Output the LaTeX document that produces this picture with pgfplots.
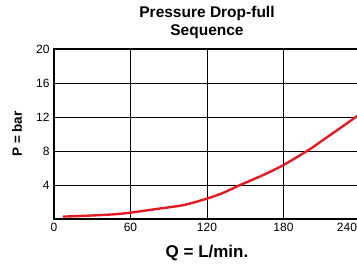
\documentclass[border=0pt]{standalone}
\usepackage{pgfplots}
\pgfplotsset{compat=1.18}
\usepackage{fontspec}
\setmainfont{Liberation Sans}
\definecolor{curvered}{RGB}{228,27,36}
\begin{document}
\begin{tikzpicture}
\begin{axis}[
  scale only axis, width=306pt, height=170pt,
  xmin=0, xmax=240, ymin=0, ymax=20,
  xtick={0,60,120,180,240}, ytick={4,8,12,16,20},
  xticklabels={0,60,120,180,\llap{240\hspace{3pt}}},
  grid=major, major grid style={black, line width=0.9pt},
  axis line style={black, line width=1.8pt},
  tick style={draw=none},
  /pgf/number format/assume math mode=true,
  ticklabel style={font=\fontsize{12}{13}\selectfont},
  xticklabel style={yshift=-1pt},
  yticklabel style={xshift=-1pt},
  xlabel={Q = L/min.}, ylabel={P = bar},
  xlabel style={font=\bfseries\fontsize{17}{18}\selectfont, at={(axis description cs:0.5,0)}, yshift=-34pt, anchor=center},
  ylabel style={font=\bfseries\fontsize{13.5}{14}\selectfont, at={(axis description cs:0,0.5)}, rotate=0, anchor=center, yshift=37pt},
  title={Pressure Drop-full\\Sequence},
  title style={align=center, font=\bfseries\fontsize{15.5}{18}\selectfont, at={(axis description cs:0.5,1)}, yshift=21pt, anchor=center},
]
\addplot[curvered, line width=2.4pt, smooth, tension=0.5] coordinates {
(7,0.28) (25,0.38) (47,0.55) (60,0.75) (72,1.0) (84,1.25) (102,1.65) (120,2.4) (133,3.1) (146,4.0) (163,5.1) (180,6.35) (200,8.15) (212,9.4) (225,10.75) (240,12.35)
};
\end{axis}
\pgfresetboundingbox
\path (current axis.south west) ++(-54pt,-46pt) rectangle ++(357pt,265pt);
\end{tikzpicture}
\end{document}
